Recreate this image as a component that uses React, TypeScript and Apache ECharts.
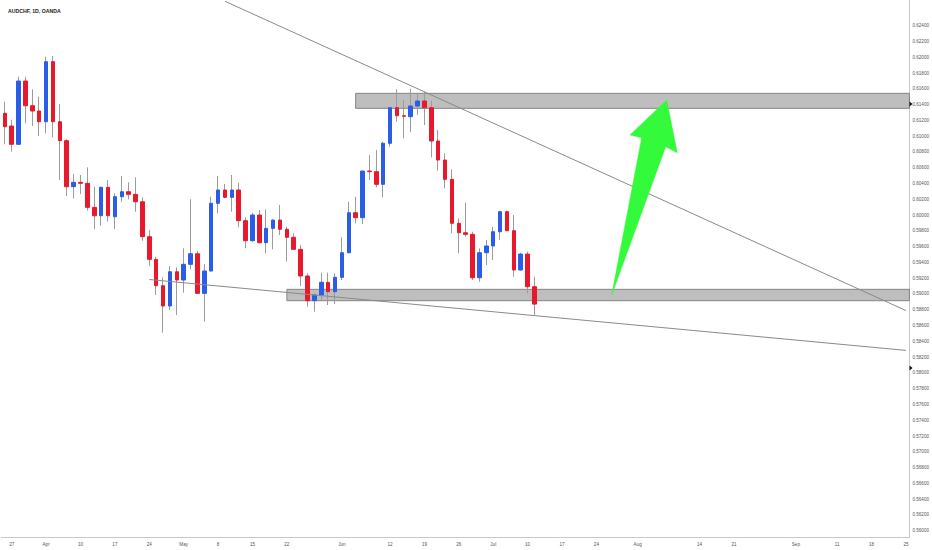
import React, { useEffect, useRef } from "react";
import * as echarts from "echarts";

// ---- data ----
const firstDate = "2023-03-24";
const lastDate = "2023-09-25";

const opens = [
  0.61290, 0.61129, 0.60897, 0.61699, 0.61386, 0.61319, 0.61183, 0.61944, 0.61183,
  0.60943, 0.60360, 0.60415, 0.60403, 0.60098, 0.59992, 0.60352, 0.59979, 0.60233, 0.60296,
  0.60263, 0.60169, 0.59726, 0.59439, 0.59105, 0.58848, 0.59282, 0.59177, 0.59376, 0.59510,
  0.59008, 0.59291, 0.60149, 0.60318, 0.60225, 0.60318, 0.59929, 0.59675, 0.60001, 0.59650,
  0.59832, 0.59937, 0.59820, 0.59718, 0.59566, 0.59228, 0.58915, 0.58987, 0.59148, 0.59029,
  0.59211, 0.59523, 0.60030, 0.59967, 0.60558, 0.60550, 0.60390, 0.60910, 0.61361, 0.61259,
  0.61247, 0.61382, 0.61446, 0.61361, 0.60939, 0.60698, 0.60453, 0.59896, 0.59776, 0.59756,
  0.59206, 0.59523, 0.59608, 0.59789, 0.60043, 0.59802, 0.59304, 0.59506, 0.59092,
];
const closes = [
  0.61120, 0.60897, 0.61699, 0.61386, 0.61319, 0.61183, 0.61944, 0.61183, 0.60943,
  0.60360, 0.60415, 0.60403, 0.60098, 0.59992, 0.60352, 0.59992, 0.60233, 0.60296, 0.60263,
  0.60169, 0.59726, 0.59439, 0.59105, 0.58848, 0.59282, 0.59177, 0.59376, 0.59510, 0.59008,
  0.59291, 0.60149, 0.60318, 0.60225, 0.60318, 0.59929, 0.59675, 0.60001, 0.59650, 0.59832,
  0.59937, 0.59820, 0.59718, 0.59566, 0.59228, 0.58915, 0.58987, 0.59148, 0.59029, 0.59211,
  0.59523, 0.60030, 0.59967, 0.60558, 0.60550, 0.60390, 0.60910, 0.61361, 0.61259, 0.61252,
  0.61382, 0.61446, 0.61361, 0.60939, 0.60698, 0.60453, 0.59896, 0.59776, 0.59756, 0.59206,
  0.59523, 0.59608, 0.59789, 0.60043, 0.59802, 0.59304, 0.59506, 0.59092, 0.58872,
];
const lows = [
  0.60897, 0.60803, 0.60890, 0.61163, 0.61129, 0.61002, 0.61036, 0.60986, 0.60444,
  0.60242, 0.60212, 0.60267, 0.60055, 0.59823, 0.59865, 0.59916, 0.59823, 0.60169, 0.60200,
  0.60043, 0.59675, 0.59354, 0.58987, 0.58509, 0.58797, 0.58733, 0.59016, 0.59313, 0.59000,
  0.58649, 0.59285, 0.60022, 0.60212, 0.60043, 0.59845, 0.59579, 0.59662, 0.59642, 0.59515,
  0.59566, 0.59747, 0.59409, 0.59557, 0.59101, 0.58839, 0.58775, 0.58924, 0.58860, 0.58873,
  0.59177, 0.59515, 0.59896, 0.59887, 0.60444, 0.60352, 0.60225, 0.60866, 0.61183, 0.60973,
  0.61050, 0.61268, 0.61141, 0.60732, 0.60562, 0.60339, 0.59769, 0.59515, 0.59726, 0.59177,
  0.59155, 0.59367, 0.59430, 0.59684, 0.59795, 0.59219, 0.59295, 0.59008, 0.58733,
];
const highs = [
  0.61437, 0.61205, 0.61754, 0.61754, 0.61594, 0.61500, 0.62007, 0.62016, 0.61408,
  0.60960, 0.60520, 0.60508, 0.60605, 0.60360, 0.60360, 0.60444, 0.60276, 0.60495, 0.60415,
  0.60479, 0.60225, 0.59811, 0.59472, 0.59211, 0.59354, 0.59338, 0.59579, 0.60200, 0.59548,
  0.59380, 0.60233, 0.60495, 0.60394, 0.60508, 0.60410, 0.59972, 0.60030, 0.60064, 0.60073,
  0.59945, 0.60128, 0.59853, 0.59769, 0.59621, 0.59262, 0.59008, 0.59270, 0.59270, 0.59262,
  0.59718, 0.60169, 0.60233, 0.60562, 0.60761, 0.60825, 0.60930, 0.61366, 0.61594, 0.61458,
  0.61602, 0.61534, 0.61564, 0.61449, 0.61078, 0.60783, 0.60580, 0.59959, 0.60157, 0.59789,
  0.59579, 0.59684, 0.59853, 0.60055, 0.60055, 0.60001, 0.59523, 0.59536, 0.59219,
];

const lastPrice = 0.58872;

const yTicks = [
  0.56, 0.562, 0.564, 0.566, 0.568, 0.57, 0.572, 0.574, 0.576, 0.578, 0.58,
  0.582, 0.584, 0.586, 0.588, 0.59, 0.592, 0.594, 0.596, 0.598, 0.6, 0.602,
  0.604, 0.606, 0.608, 0.61, 0.612, 0.614, 0.616, 0.618, 0.62, 0.622, 0.624,
];

const tickDates = [
  "2023-03-27", "2023-04-03", "2023-04-10", "2023-04-17", "2023-04-24", "2023-05-01",
  "2023-05-08", "2023-05-15", "2023-05-22", "2023-06-01", "2023-06-12", "2023-06-19",
  "2023-06-26", "2023-07-03", "2023-07-10", "2023-07-17", "2023-07-24", "2023-08-01",
  "2023-08-14", "2023-08-21", "2023-09-01", "2023-09-11", "2023-09-18", "2023-09-25",
];
const tickLabels = [
  "27", "Apr", "10", "17", "24", "May", "8", "15", "22", "Jun", "12", "19",
  "26", "Jul", "10", "17", "24", "Aug", "14", "21", "Sep", "11", "18", "25",
];

// zones [leftDate, top, bottom]
const zoneStarts = ["2023-06-05", "2023-05-22"];
const zoneTops = [0.61543, 0.59059];
const zoneBottoms = [0.61353, 0.58915];

// trend lines: [startIndex, startPrice, endIndex, endPrice]
const trendStartIdx = [32, 21];
const trendStartPx = [0.6271, 0.59183];
const trendEndIdx = [131, 131];
const trendEndPx = [0.5879, 0.58285];

function weekdays(start: string, end: string): string[] {
  const out: string[] = [];
  const d = new Date(start + "T00:00:00Z");
  const e = new Date(end + "T00:00:00Z");
  while (d.getTime() <= e.getTime()) {
    const wd = d.getUTCDay();
    if (wd !== 0 && wd !== 6) out.push(d.toISOString().slice(0, 10));
    d.setUTCDate(d.getUTCDate() + 1);
  }
  return out;
}

const categories = weekdays(firstDate, lastDate);

const RED = "#e8192c";
const BLUE = "#2b5ee8";
const WICK = "#9c9c9c";
const FONT = "Liberation Sans, Arial, sans-serif";

export default function App() {
  const ref = useRef<HTMLDivElement>(null);

  useEffect(() => {
    if (!ref.current) return;
    const chart = echarts.init(ref.current, null, { renderer: "svg" });

    const wickData = opens.map((o, i) => [o, closes[i], lows[i], highs[i]]);
    const bodyData = opens.map((o, i) => [
      o,
      closes[i],
      Math.min(o, closes[i]),
      Math.max(o, closes[i]),
    ]);

    const option: any = {
      animation: false,
      backgroundColor: "#ffffff",
      textStyle: { fontFamily: FONT },
      title: {
        text: "AUDCHF, 1D, OANDA",
        left: 3,
        top: 3,
        textStyle: { fontSize: 5.2, fontWeight: 600, color: "#222", fontFamily: FONT },
      },
      grid: { left: 1.4, right: 22.5, top: 0, bottom: 13, containLabel: false },
      xAxis: {
        type: "category",
        data: categories,
        boundaryGap: true,
        axisLine: { show: true, lineStyle: { color: "#c9c9c9", width: 1 } },
        axisTick: { show: false },
        splitLine: { show: false },
        axisLabel: {
          interval: (_idx: number, val: string) => tickDates.indexOf(val) >= 0,
          formatter: (val: string) => {
            const k = tickDates.indexOf(val);
            return k >= 0 ? tickLabels[k] : "";
          },
          fontSize: 4.6,
          color: "#555",
          margin: 4.5,
          fontFamily: FONT,
        },
      },
      yAxis: {
        type: "value",
        position: "right",
        min: 0.5592,
        max: 0.62726,
        scale: true,
        splitLine: { show: false },
        axisTick: { show: false },
        axisLine: { show: true, lineStyle: { color: "#c9c9c9", width: 1 } },
        axisLabel: {
          customValues: yTicks,
          formatter: (v: number) => v.toFixed(5),
          fontSize: 4.6,
          color: "#555",
          margin: 3,
          fontFamily: FONT,
        },
      },
      series: [
        {
          name: "wick",
          type: "candlestick",
          data: wickData,
          barWidth: 1,
          silent: true,
          z: 2,
          itemStyle: {
            color: WICK,
            color0: WICK,
            borderColor: WICK,
            borderColor0: WICK,
            borderWidth: 1,
          },
          markArea: {
            silent: true,
            itemStyle: {
              color: "rgba(120,120,120,0.48)",
              borderColor: "#858585",
              borderWidth: 1,
            },
            data: zoneStarts.map((d, i) => [
              { xAxis: d, yAxis: zoneTops[i] },
              { yAxis: zoneBottoms[i] },
            ]),
          },
          markLine: {
            silent: true,
            symbol: ["none", "none"],
            label: { show: false },
            lineStyle: { color: "#8a8a8a", width: 1, type: "solid" },
            data: trendStartIdx.map((s, i) => [
              { coord: [s, trendStartPx[i]] },
              { coord: [trendEndIdx[i], trendEndPx[i]] },
            ]),
          },
        },
        {
          name: "body",
          type: "candlestick",
          data: bodyData,
          barWidth: 4,
          silent: true,
          z: 3,
          itemStyle: {
            color: BLUE,
            color0: RED,
            borderColor: BLUE,
            borderColor0: RED,
            borderWidth: 1,
          },
          markLine: {
            silent: true,
            symbol: ["none", "none"],
            lineStyle: { opacity: 0, width: 0 },
            label: {
              show: true,
              position: "end",
              distance: 0,
              formatter: () => lastPrice.toFixed(5),
              backgroundColor: "#f6e71e",
              color: "#333",
              fontSize: 4.6,
              padding: [1, 2, 1, 2],
              fontFamily: FONT,
            },
            data: [{ yAxis: lastPrice }],
          },
        },
      ],
      graphic: [
        {
          type: "polygon",
          z: 100,
          silent: true,
          shape: {
            points: [
              [611.7, 295],
              [641.7, 137.7],
              [630, 135],
              [666.7, 100],
              [677.3, 152.7],
              [665.7, 146.7],
            ],
          },
          style: { fill: "#33fa3a", stroke: "#33fa3a", lineWidth: 0.5 },
        },
        {
          type: "polygon",
          z: 100,
          silent: true,
          shape: { points: [[909.5, 101.5], [912.5, 104], [909.5, 106.5]] },
          style: { fill: "#111" },
        },
        {
          type: "polygon",
          z: 100,
          silent: true,
          shape: { points: [[909.5, 365.5], [912.5, 368], [909.5, 370.5]] },
          style: { fill: "#111" },
        },
      ],
    };

    chart.setOption(option);
    return () => {
      chart.dispose();
    };
  }, []);

  return (
    <div
      ref={ref}
      style={{ position: "fixed", left: 0, top: 0, width: 932, height: 550, background: "#fff" }}
    />
  );
}
